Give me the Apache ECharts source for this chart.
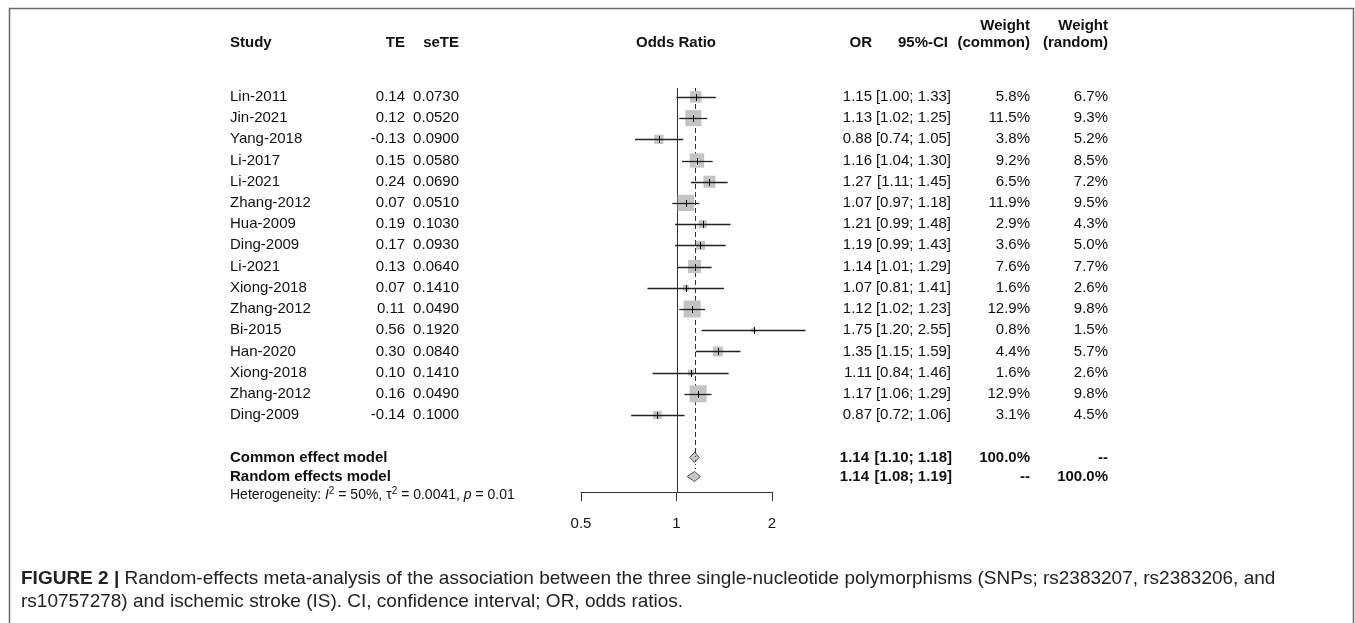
<!DOCTYPE html>
<html><head><meta charset="utf-8">
<script src="https://cdn.jsdelivr.net/npm/echarts@6/dist/echarts.min.js"></script>
<style>html,body{margin:0;padding:0;background:#fff}#c{width:1355px;height:623px}</style>
</head><body><div id="c"></div>
<script>
const studies = ['Lin-2011','Jin-2021','Yang-2018','Li-2017','Li-2021','Zhang-2012','Hua-2009','Ding-2009','Li-2021','Xiong-2018','Zhang-2012','Bi-2015','Han-2020','Xiong-2018','Zhang-2012','Ding-2009'];
const teText = ['0.14','0.12','-0.13','0.15','0.24','0.07','0.19','0.17','0.13','0.07','0.11','0.56','0.30','0.10','0.16','-0.14'];
const seteText = ['0.0730','0.0520','0.0900','0.0580','0.0690','0.0510','0.1030','0.0930','0.0640','0.1410','0.0490','0.1920','0.0840','0.1410','0.0490','0.1000'];
const orVals = [1.15,1.13,0.88,1.16,1.27,1.07,1.21,1.19,1.14,1.07,1.12,1.75,1.35,1.11,1.17,0.87];
const lowerVals = [1.00,1.02,0.74,1.04,1.11,0.97,0.99,0.99,1.01,0.81,1.02,1.20,1.15,0.84,1.06,0.72];
const upperVals = [1.33,1.25,1.05,1.30,1.45,1.18,1.48,1.43,1.29,1.41,1.23,2.55,1.59,1.46,1.29,1.06];
const wCommon = [5.8,11.5,3.8,9.2,6.5,11.9,2.9,3.6,7.6,1.6,12.9,0.8,4.4,1.6,12.9,3.1];
const wRandom = [6.7,9.3,5.2,8.5,7.2,9.5,4.3,5.0,7.7,2.6,9.8,1.5,5.7,2.6,9.8,4.5];

const models = ['Common effect model','Random effects model'];
const modelRows = [17, 17.9];
const modelOR = [1.14,1.14];
const modelLower = [1.10,1.08];
const modelUpper = [1.18,1.19];
const modelWc = ['100.0%','--'];
const modelWr = ['--','100.0%'];

const xTicks = [0.5, 1, 2];

const FAM = '"Liberation Sans", Arial, sans-serif';
const FONT = '15px ' + FAM;
const BFONT = 'bold 15px ' + FAM;
const TXT = '#111';
const col = {study:230, te:405, se:459, or:872, ci:951, wc:1030, wr:1108};
const yMin = -0.42, yMax = 18.63;

function txt(s, x, y, align, font){
  return {type:'text', style:{text:s, x:x, y:y, textAlign:align, textVerticalAlign:'middle', font:font||FONT, fill:TXT}};
}
function head(s, x, y, align){
  return {type:'text', silent:true, style:{text:s, x:x, y:y, textAlign:align, textVerticalAlign:'middle', font:BFONT, fill:TXT}};
}

const chart = echarts.init(document.getElementById('c'), null, {renderer:'canvas'});
const option = {
  animation:false,
  backgroundColor:'#fff',
  grid:{left:581, right:583, top:88, bottom:131},
  xAxis:{type:'log', logBase:2, min:0.5, max:2, position:'bottom',
    axisLine:{show:true, onZero:false, lineStyle:{color:'#333', width:1}},
    axisTick:{show:true, length:9, lineStyle:{color:'#333', width:1}},
    axisLabel:{show:true, margin:24, color:TXT, fontSize:15, fontFamily:FAM,
      formatter:function(v){ for (const t of xTicks){ if (Math.abs(v-t)<1e-6) return String(t);} return ''; }},
    splitLine:{show:false}},
  yAxis:{type:'value', inverse:true, min:yMin, max:yMax, show:false, splitLine:{show:false}},
  series:[
    { // reference line at OR = 1
      type:'custom', clip:false, z:1,
      data:[[1]],
      renderItem:function(params, api){
        const a = api.coord([api.value(0), yMin]);
        const b = api.coord([api.value(0), yMax]);
        return {type:'line', shape:{x1:Math.round(a[0])+0.5, y1:a[1], x2:Math.round(a[0])+0.5, y2:b[1]}, style:{stroke:'#333', lineWidth:1}};
      }
    },
    { // summary lines + diamonds + model rows
      type:'custom', clip:false, z:2,
      data:models.map((m,i)=>[modelOR[i], modelLower[i], modelUpper[i], modelRows[i], i]),
      renderItem:function(params, api){
        const i = api.value(4);
        const c = api.coord([api.value(0), api.value(3)]);
        const l = api.coord([api.value(1), api.value(3)]);
        const u = api.coord([api.value(2), api.value(3)]);
        const top = api.coord([api.value(0), yMin]);
        const h = 5;
        const xr = Math.round(c[0])+0.5;
        return {type:'group', children:[
          {type:'line', shape:{x1:xr, y1:top[1], x2:xr, y2:c[1]-h}, style:{stroke:'#333', lineWidth:1, lineDash: i===0?[5,3]:[1,3]}},
          {type:'polygon', shape:{points:[[l[0],c[1]],[c[0],c[1]-h],[u[0],c[1]],[c[0],c[1]+h]]}, style:{fill:'#c8c8c8', stroke:'#555', lineWidth:1}},
          txt(models[i], col.study, c[1], 'left', BFONT),
          txt(modelOR[i].toFixed(2), col.or - 3, c[1], 'right', BFONT),
          txt('['+modelLower[i].toFixed(2)+'; '+modelUpper[i].toFixed(2)+']', col.ci + 1, c[1], 'right', BFONT),
          txt(modelWc[i], col.wc, c[1], 'right', BFONT),
          txt(modelWr[i], col.wr, c[1], 'right', BFONT)
        ]};
      }
    },
    { // studies
      type:'custom', clip:false, z:3,
      data:studies.map((s,i)=>[orVals[i], lowerVals[i], upperVals[i], i, wCommon[i]]),
      renderItem:function(params, api){
        const i = api.value(3);
        const c = api.coord([api.value(0), i]);
        const l = api.coord([api.value(1), i]);
        const u = api.coord([api.value(2), i]);
        const s = 4.75*Math.sqrt(api.value(4));
        const y = Math.round(c[1])+0.5;
        return {type:'group', children:[
          {type:'rect', shape:{x:c[0]-s/2, y:c[1]-s/2, width:s, height:s}, style:{fill:'#c4c4c4'}},
          {type:'line', shape:{x1:l[0], y1:y, x2:u[0], y2:y}, style:{stroke:'#222', lineWidth:1.3}},
          {type:'line', shape:{x1:Math.round(c[0])+0.5, y1:y-3.5, x2:Math.round(c[0])+0.5, y2:y+3.5}, style:{stroke:'#000', lineWidth:1}},
          txt(studies[i], col.study, c[1], 'left'),
          txt(teText[i], col.te, c[1], 'right'),
          txt(seteText[i], col.se, c[1], 'right'),
          txt(orVals[i].toFixed(2), col.or, c[1], 'right'),
          txt('['+lowerVals[i].toFixed(2)+'; '+upperVals[i].toFixed(2)+']', col.ci, c[1], 'right'),
          txt(wCommon[i].toFixed(1)+'%', col.wc, c[1], 'right'),
          txt(wRandom[i].toFixed(1)+'%', col.wr, c[1], 'right')
        ]};
      }
    }
  ],
  graphic:[
    {type:'polyline', silent:true, shape:{points:[[9.5,623],[9.5,8.5],[1353.5,8.5],[1353.5,623]]}, style:{stroke:'#6a6a6a', lineWidth:1.5, fill:null}},
    head('Study', col.study, 43, 'left'),
    head('TE', col.te, 43, 'right'),
    head('seTE', col.se, 43, 'right'),
    head('Odds Ratio', 676, 43, 'center'),
    head('OR', col.or, 43, 'right'),
    head('95%-CI', 948, 43, 'right'),
    head('(common)', col.wc, 43, 'right'),
    head('(random)', col.wr, 43, 'right'),
    head('Weight', col.wc, 26, 'right'),
    head('Weight', col.wr, 26, 'right'),
    {type:'text', silent:true, left:230, top:486, style:{
      text:'{t|Heterogeneity: }{i|I}{s|2}{t| = 50%, \u03c4}{s|2}{t| = 0.0041, }{i|p}{t| = 0.01}',
      fill:TXT,
      rich:{
        t:{fontSize:14, fontFamily:FAM, lineHeight:18, fill:TXT},
        i:{fontSize:14, fontFamily:FAM, fontStyle:'italic', lineHeight:18, fill:TXT},
        s:{fontSize:10, fontFamily:FAM, lineHeight:18, verticalAlign:'top', fill:TXT}
      }}},
    {type:'text', silent:true, left:21, top:569, style:{
      text:'{b|FIGURE 2 |}{r| Random-effects meta-analysis of the association between the three single-nucleotide polymorphisms (SNPs; rs2383207, rs2383206, and}',
      rich:{b:{fontWeight:'bold', fontSize:19, fontFamily:FAM, fill:'#222'}, r:{fontSize:19, fontFamily:FAM, fill:'#222'}}}},
    {type:'text', silent:true, left:21, top:592, style:{
      text:'rs10757278) and ischemic stroke (IS). CI, confidence interval; OR, odds ratios.',
      font:'19px ' + FAM, fill:'#222'}}
  ]
};
chart.setOption(option);
</script></body></html>
